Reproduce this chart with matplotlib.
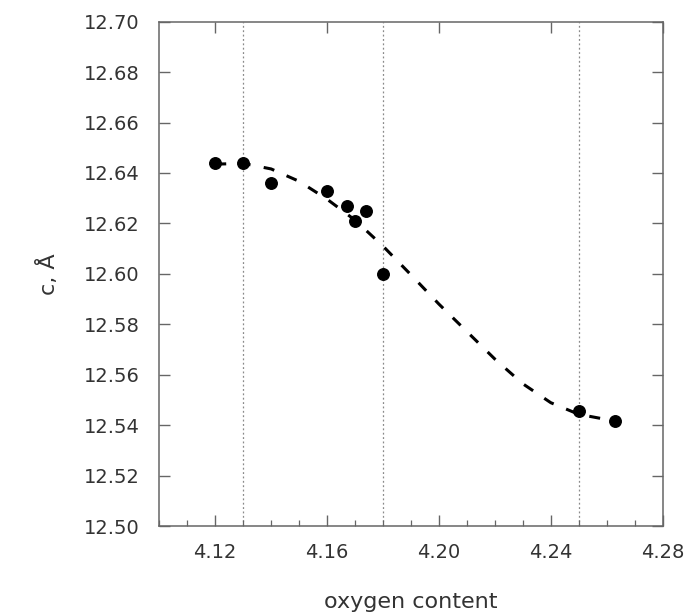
import matplotlib
matplotlib.use("Agg")
import matplotlib.pyplot as plt
from matplotlib.ticker import MultipleLocator, FixedLocator

# data points
oxygen = [4.120, 4.130, 4.140, 4.160, 4.167, 4.170, 4.174, 4.180, 4.250, 4.263]
c_axis = [12.644, 12.644, 12.636, 12.633, 12.627, 12.621, 12.625, 12.600, 12.5455, 12.5415]

# dashed guide curve
curve_x = [4.120, 4.130, 4.140, 4.150, 4.160, 4.170, 4.180, 4.190, 4.200,
           4.210, 4.220, 4.230, 4.240, 4.250, 4.263]
curve_y = [12.6435, 12.6438, 12.6416, 12.6367, 12.6296, 12.6213, 12.6110, 12.5996, 12.5880,
           12.5771, 12.5662, 12.5564, 12.5489, 12.5443, 12.5416]

# vertical reference lines
vlines_x = [4.13, 4.18, 4.25]

x_major = [4.12, 4.16, 4.20, 4.24, 4.28]
y_major = [12.50, 12.52, 12.54, 12.56, 12.58, 12.60, 12.62, 12.64, 12.66, 12.68, 12.70]

txt = "#333333"
spine = "#666666"

fig = plt.figure(figsize=(6.91, 6.14), dpi=100)
ax = fig.add_axes([0.2305, 0.1433, 0.7285, 0.8214])

for xv in vlines_x:
    ax.axvline(xv, color="#8a8a8a", lw=0.9, ls=(0, (1.5, 2.0)), zorder=1)

ax.plot(curve_x, curve_y, color="black", lw=2.2, ls=(0, (3.6, 4.4)), zorder=2,
        dash_capstyle="butt")
ax.plot(oxygen, c_axis, "o", color="black", ms=8.3, zorder=3)

ax.set_xlim(4.10, 4.28)
ax.set_ylim(12.50, 12.70)
ax.xaxis.set_major_locator(FixedLocator(x_major))
ax.xaxis.set_minor_locator(MultipleLocator(0.01))
ax.yaxis.set_major_locator(FixedLocator(y_major))
ax.set_xticklabels([f"{v:.2f}" for v in x_major])
ax.set_yticklabels([f"{v:.2f}" for v in y_major])

for s in ax.spines.values():
    s.set_color(spine)
    s.set_linewidth(1.1)

ax.tick_params(axis="both", which="major", direction="in", length=8, width=1.0,
               color=spine, labelsize=14, labelcolor=txt, pad=10)
ax.tick_params(axis="x", which="major", top=True, pad=12)
ax.tick_params(axis="x", which="minor", direction="in", length=4, width=0.9,
               color=spine, top=False, bottom=True)
ax.tick_params(axis="y", which="major", right=True, pad=14)

ax.set_xlabel("oxygen content", fontsize=16, color=txt, labelpad=22)
ax.set_ylabel("c, Å", fontsize=16, color=txt, labelpad=18)

fig.savefig("out.png", dpi=100)
